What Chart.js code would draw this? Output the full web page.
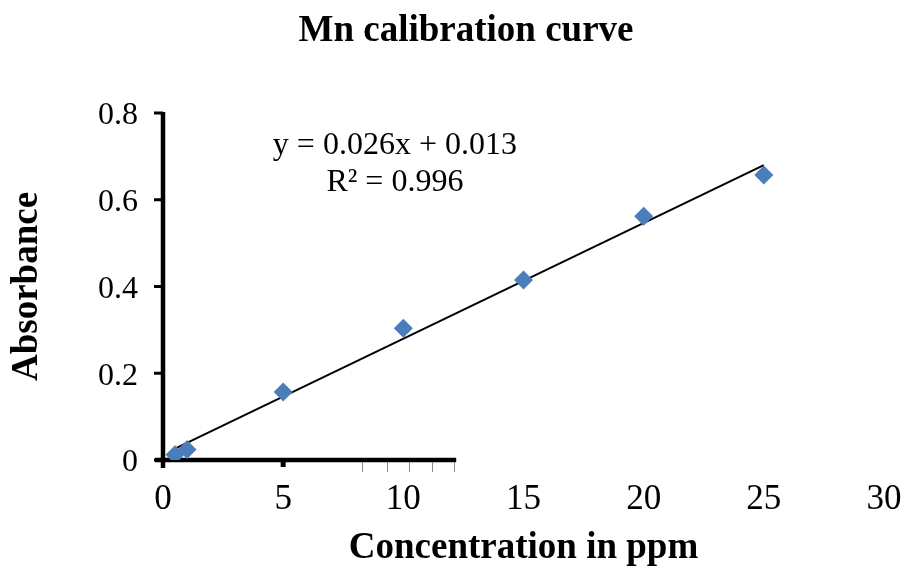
<!DOCTYPE html>
<html>
<head>
<meta charset="utf-8">
<script src="https://cdn.jsdelivr.net/npm/chart.js@4.4.1/dist/chart.umd.min.js"></script>
<style>
  html, body { margin: 0; padding: 0; background: #fff; }
  #wrap { width: 903px; height: 567px; }
</style>
</head>
<body>
<div id="wrap"><canvas id="c" width="903" height="567"></canvas></div>
<script>
// ---- data ----
const concentrations = [0.5, 1, 5, 10, 15, 20, 25];
const absorbances    = [0.012, 0.024, 0.157, 0.304, 0.415, 0.562, 0.657];
const trendX = [0.5, 25];
const trendY = [0.026, 0.680];
const xTicks = [0, 5, 10, 15, 20, 25, 30];
const yTicks = [0, 0.2, 0.4, 0.6, 0.8];
const equationLines = ['y = 0.026x + 0.013', 'R\u00B2 = 0.996'];
const titleText = 'Mn calibration curve';
const xTitle = 'Concentration in ppm';
const yTitle = 'Absorbance';

const serif = "'Liberation Serif', 'Times New Roman', serif";

const pointsData = concentrations.map((x, i) => ({ x, y: absorbances[i] }));
const trendData = trendX.map((x, i) => ({ x, y: trendY[i] }));

const axisPlugin = {
  id: 'excelAxes',
  beforeDatasetsDraw(chart) {
    const { ctx, scales: { x, y } } = chart;
    const x0 = x.getPixelForValue(0);
    const y0 = y.getPixelForValue(0);
    const yTop = y.getPixelForValue(0.8);
    ctx.save();
    ctx.strokeStyle = '#000';
    ctx.lineCap = 'butt';
    // y axis line
    ctx.lineWidth = 4.5;
    ctx.beginPath();
    ctx.moveTo(x0, yTop - 1);
    ctx.lineTo(x0, y0 + 8);
    ctx.stroke();
    // y ticks
    ctx.lineWidth = 3;
    yTicks.forEach(v => {
      const py = y.getPixelForValue(v);
      ctx.beginPath();
      ctx.moveTo(x0 - 9, py);
      ctx.lineTo(x0, py);
      ctx.stroke();
    });
    // x axis line (partial)
    ctx.lineWidth = 4.5;
    ctx.beginPath();
    ctx.moveTo(x0 - 8, y0);
    ctx.lineTo(x.getPixelForValue(12.2), y0);
    ctx.stroke();
    // major tick at 5
    ctx.lineWidth = 5;
    ctx.beginPath();
    ctx.moveTo(x.getPixelForValue(5), y0);
    ctx.lineTo(x.getPixelForValue(5), y0 + 7);
    ctx.stroke();
    // thin minor ticks
    ctx.strokeStyle = '#888';
    ctx.lineWidth = 1;
    [8.3, 9.3, 10.25, 11.2, 12.1].forEach(v => {
      const px = Math.round(x.getPixelForValue(v)) + 0.5;
      ctx.beginPath();
      ctx.moveTo(px, y0 + 2);
      ctx.lineTo(px, y0 + 12);
      ctx.stroke();
    });
    ctx.restore();
  },
  afterDatasetsDraw(chart) {
    const { ctx, scales: { x, y } } = chart;
    ctx.save();
    ctx.fillStyle = '#000';
    ctx.font = "32px " + serif;
    ctx.textAlign = 'center';
    ctx.textBaseline = 'middle';
    const cx = x.getPixelForValue(9.65);
    ctx.fillText(equationLines[0], cx, y.getPixelForValue(0.726));
    ctx.fillText(equationLines[1], cx, y.getPixelForValue(0.64));
    ctx.restore();
  },
  afterDraw(chart) {
    const { ctx } = chart;
    ctx.save();
    ctx.fillStyle = '#000';
    ctx.font = "bold 37px " + serif;
    ctx.textAlign = 'center';
    ctx.textBaseline = 'middle';
    ctx.fillText(titleText, 466, 31);
    ctx.restore();
  }
};

new Chart(document.getElementById('c'), {
  type: 'scatter',
  data: {
    datasets: [
      {
        label: 'Trend',
        type: 'line',
        data: trendData,
        borderColor: '#000',
        borderWidth: 2,
        pointRadius: 0,
        fill: false,
        order: 2
      },
      {
        label: 'Mn',
        data: pointsData,
        pointStyle: 'rectRot',
        pointRadius: 9.5,
        pointHoverRadius: 9.5,
        backgroundColor: '#4a7ebb',
        borderColor: '#4a7ebb',
        borderWidth: 0,
        order: 1
      }
    ]
  },
  options: {
    responsive: false,
    animation: false,
    layout: { padding: { left: 0, right: 19, top: 113, bottom: 0 } },
    plugins: {
      legend: { display: false },
      tooltip: { enabled: false },
      title: { display: false }
    },
    scales: {
      x: {
        type: 'linear',
        min: 0, max: 30,
        afterBuildTicks: s => { s.ticks = xTicks.map(v => ({ value: v })); },
        afterFit: s => { s.paddingLeft = 0; s.paddingRight = 0; s.height = 107; },
        ticks: {
          color: '#000',
          font: { family: serif, size: 35, lineHeight: 1.2 },
          padding: 19,
          maxRotation: 0
        },
        grid: { display: false, drawTicks: false },
        border: { display: false },
        title: {
          display: true,
          text: xTitle,
          color: '#000',
          font: { family: serif, size: 37, weight: 'bold', lineHeight: 1 },
          padding: { top: 0, bottom: 0 }
        }
      },
      y: {
        type: 'linear',
        min: 0, max: 0.8,
        afterBuildTicks: s => { s.ticks = yTicks.map(v => ({ value: v })); },
        afterFit: s => { s.width = 163; s.paddingTop = 0; s.paddingBottom = 0; },
        ticks: {
          color: '#000',
          font: { family: serif, size: 32 },
          padding: 25,
          labelOffset: 3,
          callback: v => String(Math.round(v * 10) / 10)
        },
        grid: { display: false, drawTicks: false },
        border: { display: false },
        title: {
          display: true,
          text: yTitle,
          color: '#000',
          font: { family: serif, size: 37, weight: 'bold', lineHeight: 1 },
          padding: { top: 9, bottom: 0 }
        }
      }
    }
  },
  plugins: [axisPlugin]
});
</script>
</body>
</html>
